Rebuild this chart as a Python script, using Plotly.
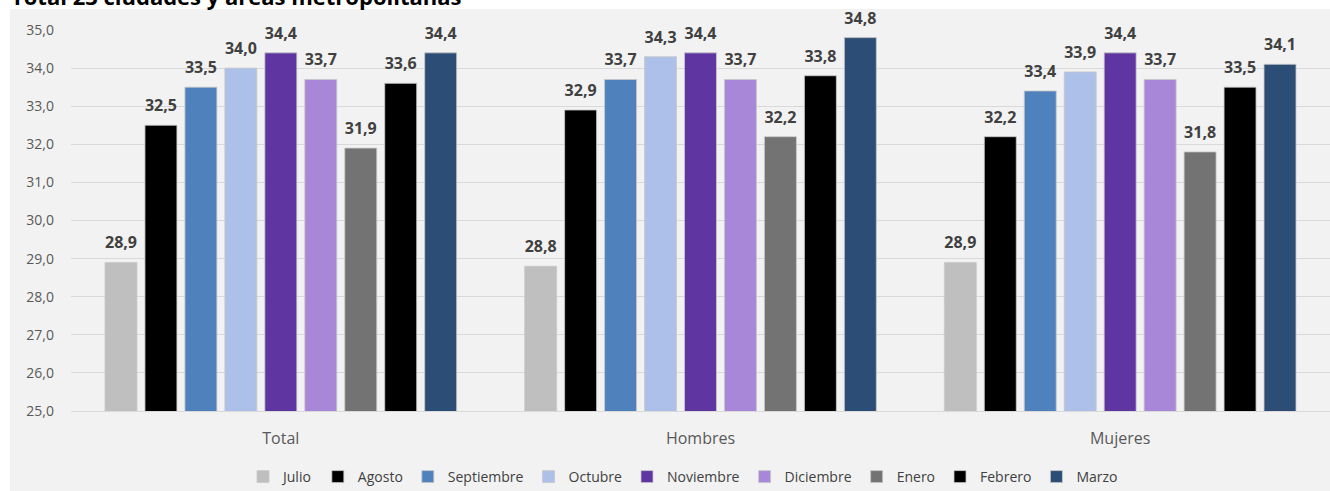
import plotly.graph_objects as go

categories = ["Total", "Hombres", "Mujeres"]
months = ["Julio", "Agosto", "Septiembre", "Octubre", "Noviembre",
          "Diciembre", "Enero", "Febrero", "Marzo"]
julio = [28.9, 28.8, 28.9]
agosto = [32.5, 32.9, 32.2]
septiembre = [33.5, 33.7, 33.4]
octubre = [34.0, 34.3, 33.9]
noviembre = [34.4, 34.4, 34.4]
diciembre = [33.7, 33.7, 33.7]
enero = [31.9, 32.2, 31.8]
febrero = [33.6, 33.8, 33.5]
marzo = [34.4, 34.8, 34.1]
series = [julio, agosto, septiembre, octubre, noviembre, diciembre, enero, febrero, marzo]
colors = ["#bfbfbf", "#000000", "#4f81bd", "#adc0ea", "#5f35a2",
          "#a886d8", "#737373", "#000000", "#2c4d75"]
y_ticks = [25, 26, 27, 28, 29, 30, 31, 32, 33, 34, 35]

FONT = "Open Sans"
fig = go.Figure()
for name, vals, col in zip(months, series, colors):
    fig.add_trace(go.Bar(
        name=name, x=categories, y=vals,
        marker=dict(color=col, line=dict(color="rgba(200,200,200,0.8)", width=1)),
        texttemplate="<span style='font-size:16px'><b>%{y:.1f}</b></span><br>&nbsp;",
        textposition="outside", constraintext="none",
        textfont=dict(family=FONT, size=7, color="#404040"),
        cliponaxis=False,
    ))

W, H = 1330, 491
L, R, T, B = 71, 0, 30, 80
pw = W - L - R
ph = H - T - B

def px_x(p):
    return (p - L) / pw

def px_y(p):
    return (H - B - p) / ph

fig.add_shape(type="rect", xref="paper", yref="paper",
              x0=px_x(10), x1=px_x(1335), y0=px_y(9), y1=px_y(495),
              fillcolor="#f2f2f2", line=dict(width=0), layer="below")

fig.add_annotation(text="<b>Total 23 ciudades y áreas metropolitanas</b>",
                   xref="paper", yref="paper", x=px_x(9), y=px_y(-4),
                   xanchor="left", yanchor="middle", showarrow=False,
                   font=dict(family=FONT, size=22, color="#000000"))

fig.update_layout(
    width=W, height=H,
    margin=dict(l=L, r=R, t=T, b=B, autoexpand=False),
    paper_bgcolor="#ffffff", plot_bgcolor="rgba(0,0,0,0)",
    separators=",.",
    barmode="group", bargap=0.143, bargroupgap=0.2,
    font=dict(family=FONT, size=14, color="#595959"),
    legend=dict(orientation="h", x=px_x(683), xanchor="center",
                y=px_y(477), yanchor="middle",
                font=dict(family=FONT, size=14, color="#404040"),
                bgcolor="rgba(0,0,0,0)", itemwidth=30),
    showlegend=True,
)
fig.update_yaxes(range=[25, 35], tickvals=y_ticks, tickformat=".1f",
                 showgrid=True, gridcolor="#d9d9d9", gridwidth=1,
                 zeroline=False, showline=False, ticks="",
                 tickfont=dict(family=FONT, size=14, color="#595959"),
                 ticklabelstandoff=16)
fig.update_xaxes(showline=True, linecolor="#d9d9d9", linewidth=1,
                 ticks="outside", ticklen=13, tickcolor="rgba(0,0,0,0)",
                 tickfont=dict(family=FONT, size=16, color="#595959"))

fig.write_html("out.html", config={"displayModeBar": False},
               post_script="document.body.style.margin='0';")
